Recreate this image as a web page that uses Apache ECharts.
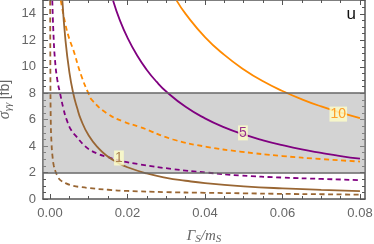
<!DOCTYPE html>
<html><head><meta charset="utf-8">
<script src="https://cdn.jsdelivr.net/npm/echarts@6/dist/echarts.min.js"></script>
<style>html,body{margin:0;padding:0;background:#fff}#c{width:374px;height:244px}</style>
</head><body><div id="c"></div>
<script>
// ---- data (Γ_S/m_S , σ_γγ [fb]) ----
const brownSolid = [[0.0032,15],[0.004,12],[0.005,9.6],[0.006,8.0],[0.007,6.9],[0.008,6.0],[0.01,4.8],[0.0125,3.85],[0.015,3.2],[0.0175,2.75],[0.02,2.4],[0.025,1.93],[0.03,1.6],[0.035,1.38],[0.04,1.2],[0.05,0.96],[0.06,0.8],[0.07,0.69],[0.08,0.6]];
const brownDashed = [[0.00005,15],[0.0001,10],[0.0002,6],[0.0004,4.2],[0.0007,3.1],[0.001,2.5],[0.0014,2.1],[0.002,1.72],[0.0026,1.45],[0.004,1.2],[0.006,1.0],[0.008,0.9],[0.0103,0.82],[0.015,0.7],[0.02,0.61],[0.03,0.52],[0.04,0.47],[0.05,0.43],[0.06,0.39],[0.07,0.36],[0.08,0.33]];
const purpleSolid = [[0.0163,15],[0.018,13.55],[0.02,12.2],[0.0225,10.85],[0.025,9.76],[0.0275,8.87],[0.03,8.13],[0.035,6.97],[0.04,6.1],[0.045,5.42],[0.05,4.88],[0.055,4.44],[0.06,4.07],[0.065,3.75],[0.07,3.49],[0.075,3.25],[0.08,3.05]];
const purpleDashed = [[0.0006,15],[0.0009,12.5],[0.0013,10.5],[0.0019,9],[0.0026,8],[0.0035,6.8],[0.0043,6.0],[0.0055,5.2],[0.0069,4.7],[0.0085,4.15],[0.0103,3.72],[0.0125,3.4],[0.0146,3.2],[0.0181,2.9],[0.0232,2.62],[0.0318,2.26],[0.0404,2.0],[0.049,1.78],[0.06,1.62],[0.07,1.52],[0.08,1.43]];
const orangeSolid = [[0.0327,15],[0.035,14],[0.04,12.25],[0.045,10.9],[0.05,9.8],[0.055,8.9],[0.06,8.17],[0.065,7.54],[0.07,7.0],[0.075,6.53],[0.08,6.12]];
const orangeDashed = [[0.0028,15],[0.004,13.2],[0.005,12.1],[0.006,11.3],[0.008,9.4],[0.0099,8.0],[0.0108,7.5],[0.0146,6.5],[0.0189,5.86],[0.0232,5.45],[0.0318,4.5],[0.0404,3.95],[0.049,3.59],[0.06,3.25],[0.07,3.02],[0.08,2.83]];
const curveLabels = [[0.0178,3.1,'1'],[0.0498,5.0,'5'],[0.0744,6.42,'10']];
const band = [2, 8];
const xMajorTicks = [0, 0.02, 0.04, 0.06, 0.08];
const xMinorTicks = [0,0.005,0.01,0.015,0.02,0.025,0.03,0.035,0.04,0.045,0.05,0.055,0.06,0.065,0.07,0.075,0.08];
const yTickStep = 2;
const cornerText = 'u';

const BROWN = '#996633', PURPLE = '#800080', ORANGE = '#ff8a00';
const AX = '#555', TXT = '#666';
const X_MIN = -0.0018, X_MAX = 0.0813, Y_MIN = 0, Y_MAX = 15.05;

function xAx(pos, values, len, showLine, labels){
  return {type:'value', position:pos, min:X_MIN, max:X_MAX,
    axisLine:{show:showLine, onZero:false, lineStyle:{color:AX, width:1.5}},
    axisTick:{show:true, inside:true, length:len, customValues:values, lineStyle:{color:AX, width:1}},
    axisLabel:labels ? {show:true, customValues:xMajorTicks, color:TXT, fontSize:13, margin:8, fontFamily:'Liberation Sans',
       formatter:v=>v.toFixed(2)} : {show:false},
    splitLine:{show:false}};
}
function yAx(pos, labels){
  return {type:'value', position:pos, min:Y_MIN, max:Y_MAX, interval:yTickStep,
    axisLine:{show:true, onZero:false, lineStyle:{color:AX, width:1.5}},
    axisTick:{show:true, inside:true, length:5, lineStyle:{color:AX, width:1}},
    minorTick:{show:true, splitNumber:4, length:3, lineStyle:{color:AX, width:1}},
    axisLabel:labels ? {show:true, showMaxLabel:false, color:TXT, fontSize:13, margin:7, fontFamily:'Liberation Sans'} : {show:false},
    splitLine:{show:false},
    name: labels ? '{i|σ}{s|γγ} {n|[fb]}' : '',
    nameLocation:'middle', nameGap:30, nameRotate:90, nameMoveOverlap:false,
    nameTextStyle:{rich:{i:{fontSize:16, fontStyle:'italic', color:TXT, fontFamily:'Liberation Serif'},
       s:{fontSize:11, fontStyle:'italic', color:TXT, padding:[0,0,-6,0], fontFamily:'Liberation Serif'},
       n:{fontSize:14, color:TXT, fontFamily:'Liberation Sans'}}}};
}
function curve(data, color, dashed){
  return {type:'line', data:data, showSymbol:false, symbol:'none', smooth:0.5, z:2,
    clip:true, lineStyle:{color:color, width:1.8, type:dashed ? [5,3.5] : 'solid'}, silent:true};
}

const xaxes = [xAx('bottom', xMajorTicks, 5, true, true), xAx('bottom', xMinorTicks, 3, false, false),
               xAx('top', xMajorTicks, 5, true, false), xAx('top', xMinorTicks, 3, false, false)];
xaxes[0].name = '{g|Γ}{s|S}{g|/m}{s|S}';
xaxes[0].nameLocation = 'middle';
xaxes[0].nameGap = 30;
xaxes[0].nameMoveOverlap = false;
xaxes[0].nameTextStyle = {rich:{g:{fontSize:15, color:TXT, fontStyle:'italic', fontFamily:'Liberation Serif'},
   s:{fontSize:11, color:TXT, fontStyle:'italic', padding:[0,0,-6,0], fontFamily:'Liberation Serif'}}};

const labelColors = [BROWN, PURPLE, ORANGE];
const labelData = curveLabels.map((d,i)=>({value:[d[0],d[1]], name:d[2],
  label:{show:true, position:'inside', formatter:d[2], color:labelColors[i], fontSize:14,
     backgroundColor:'#ffffc8', padding:[1,1,0,1], fontFamily:'Liberation Sans'}}));

const option = {
  animation:false,
  grid:{left:43, right:9, top:0, bottom:45, containLabel:false, outerBoundsMode:'none'},
  xAxis: xaxes,
  yAxis: [yAx('left', true), yAx('right', false)],
  series:[
    curve(brownDashed, BROWN, true),
    curve(purpleDashed, PURPLE, true),
    curve(orangeDashed, ORANGE, true),
    curve(brownSolid, BROWN, false),
    curve(purpleSolid, PURPLE, false),
    curve(orangeSolid, ORANGE, false),
    {type:'line', data:[], z:5, silent:true,
      markArea:{silent:true, itemStyle:{color:'rgba(170,170,170,0.52)'}, data:[[{yAxis:band[0]},{yAxis:band[1]}]]},
      markLine:{silent:true, symbol:'none', label:{show:false}, lineStyle:{color:'#666', width:1.5, type:'solid'},
        data:[{yAxis:band[0]},{yAxis:band[1]}]}},
    {type:'scatter', data:labelData, symbolSize:0, z:10, silent:true}
  ],
  graphic:[{type:'text', right:18, top:6, style:{text:cornerText, fontSize:17, fill:'#111', fontFamily:'Liberation Sans'}}]
};
echarts.init(document.getElementById('c'), null, {renderer:'canvas'}).setOption(option);
</script></body></html>
